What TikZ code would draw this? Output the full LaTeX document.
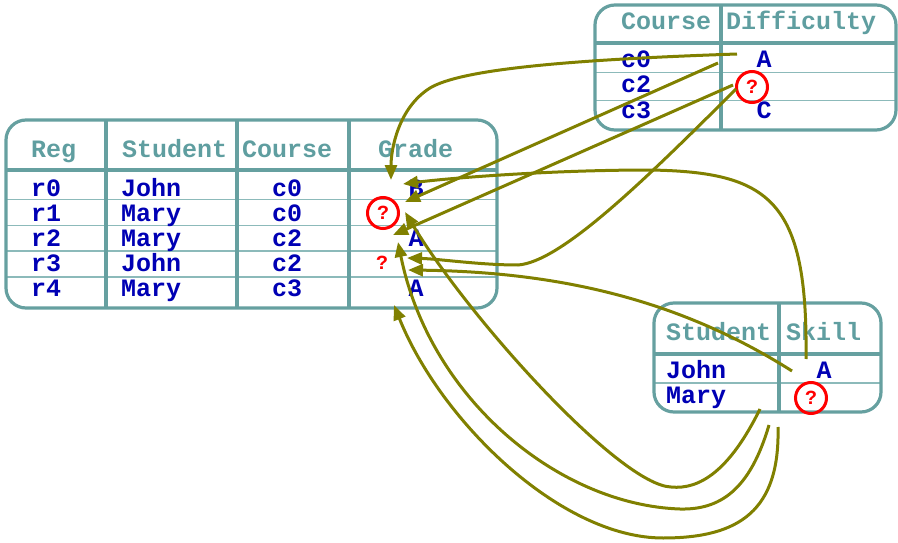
\documentclass[tikz,border=0pt]{standalone}
\usepackage{fontspec}
\setmainfont{Liberation Mono}
\usetikzlibrary{arrows.meta}
\definecolor{frame}{RGB}{102,160,160}
\definecolor{rowrule}{RGB}{140,186,186}
\definecolor{headtxt}{RGB}{95,158,160}
\definecolor{celltxt}{RGB}{0,0,180}
\definecolor{olivedep}{RGB}{128,128,0}
\definecolor{miss}{RGB}{255,0,0}
\begin{document}
\begin{tikzpicture}[x=1pt,y=-1pt,
  tbl/.style={draw=frame,line width=3.2pt,rounded corners=20pt},
  colsep/.style={draw=frame,line width=3.2pt},
  headsep/.style={draw=frame,line width=3.8pt},
  rowsep/.style={draw=rowrule,line width=1.6pt},
  head/.style={anchor=base west,inner sep=0pt,text=headtxt,font=\fontsize{25}{25}\selectfont\bfseries},
  cell/.style={anchor=base west,inner sep=0pt,text=celltxt,font=\fontsize{25}{25}\selectfont\bfseries},
  ccell/.style={cell,anchor=base},
  unk/.style={circle,draw=miss,line width=3pt,minimum size=31pt,inner sep=0pt,text=miss,font=\fontsize{20}{20}\selectfont\bfseries},
  unkbare/.style={inner sep=0pt,text=miss,font=\fontsize{20}{20}\selectfont\bfseries},
  link/.style={draw=olivedep,line width=3pt,-{Triangle[length=15pt,width=12pt]}},
]
\useasboundingbox (0,0) rectangle (898,543);

% ---------- Registration table ----------
\foreach \y in {199.5,225.5,251,277} \draw[rowsep] (6,\y) -- (497,\y);
\draw[headsep] (6,170) -- (497,170);
\foreach \x in {106,237,349} \draw[colsep] (\x,120) -- (\x,308);
\draw[tbl] (6,120) rectangle (497,308);

\node[head] (hReg) at (31,157.5) {Reg};
\node[head] (hStu) at (122,157.5) {Student};
\node[head] (hCou) at (242,157.5) {Course};
\node[head] (hGra) at (378,157.5) {Grade};

\node[cell] (r0) at (31,196) {r0};
\node[cell] (r1) at (31,221) {r1};
\node[cell] (r2) at (31,246.5) {r2};
\node[cell] (r3) at (31,271.5) {r3};
\node[cell] (r4) at (31,296.5) {r4};
\node[cell] (s0) at (121,196) {John};
\node[cell] (s1) at (121,221) {Mary};
\node[cell] (s2) at (121,246.5) {Mary};
\node[cell] (s3) at (121,271.5) {John};
\node[cell] (s4) at (121,296.5) {Mary};
\node[cell] (c0) at (272,196) {c0};
\node[cell] (c1) at (272,221) {c0};
\node[cell] (c2) at (272,246.5) {c2};
\node[cell] (c3) at (272,271.5) {c2};
\node[cell] (c4) at (272,296.5) {c3};
\node[ccell] (g0) at (416,196) {B};
\node[unk] (g1) at (383,213) {?};
\node[ccell] (g2) at (416,246.5) {A};
\node[unkbare] (g3) at (382,263) {?};
\node[ccell] (g4) at (416,296.5) {A};

% ---------- Course difficulty table ----------
\foreach \y in {72.5,100.5} \draw[rowsep] (595,\y) -- (896,\y);
\draw[headsep] (595,43) -- (896,43);
\draw[colsep] (721,5) -- (721,130);
\draw[tbl] (595,5) rectangle (896,130);

\node[head] (hDC) at (621,30) {Course};
\node[head] (hDD) at (726,30) {Difficulty};
\node[cell] (dc0) at (621,68) {c0};
\node[cell] (dc2) at (621,93) {c2};
\node[cell] (dc3) at (621,118) {c3};
\node[ccell] (dd0) at (764,68) {A};
\node[unk] (dd2) at (752,87) {?};
\node[ccell] (dd3) at (764,118) {C};

% ---------- Student skill table ----------
\draw[rowsep] (654,383) -- (881,383);
\draw[headsep] (654,354) -- (881,354);
\draw[colsep] (779,303) -- (779,412);
\draw[tbl] (654,303) rectangle (881,412);

\node[head] (hSS) at (666,340) {Student};
\node[head] (hSK) at (786,340) {Skill};
\node[cell] (sj) at (666,378) {John};
\node[cell] (sm) at (666,403) {Mary};
\node[ccell] (ka) at (824,378) {A};
\node[unk] (km) at (811,398) {?};

% ---------- dependency connectors ----------
\coordinate (dA0) at (737,54);
\coordinate (dC0) at (718,63);
\coordinate (dQa) at (733,85);
\coordinate (dQb) at (736,89);
\coordinate (sA)  at (806,359);
\coordinate (sJ)  at (792,371);
\coordinate (sM1) at (760,409);
\coordinate (sM2) at (769,425);
\coordinate (sM3) at (778,427);
\coordinate (g0a) at (391,180);
\coordinate (g0b) at (403,184);
\coordinate (g1a) at (405,202);
\coordinate (g1b) at (405,212);
\coordinate (g2a) at (393,235);
\coordinate (g2b) at (398,242);
\coordinate (g3a) at (407,258);
\coordinate (g3b) at (408,270);
\coordinate (g4a) at (394,305);

\draw[link] (dA0) .. controls (560,60) and (460,70) .. (430,88)
                  .. controls (398,108) and (391,150) .. (g0a);
\draw[link] (dC0) -- (g1a);
\draw[link] (dQa) -- (g2a);
\draw[link] (dQb) .. controls (640,185) and (560,262) .. (518,265)
                  .. controls (480,265) and (440,259) .. (g3a);
\draw[link] (sA) .. controls (808,200) and (770,172) .. (650,170)
                 .. controls (550,170) and (450,178) .. (g0b);
\draw[link] (sJ) .. controls (680,300) and (560,272) .. (g3b);
\draw[link] (sM1) .. controls (730,470) and (700,490) .. (671,487)
                  .. controls (620,485) and (470,320) .. (g1b);
\draw[link] (sM2) .. controls (750,490) and (720,510) .. (680,509)
                  .. controls (560,505) and (430,400) .. (g2b);
\draw[link] (sM3) .. controls (780,510) and (740,538) .. (663,538)
                  .. controls (560,538) and (440,420) .. (g4a);
\end{tikzpicture}
\end{document}
